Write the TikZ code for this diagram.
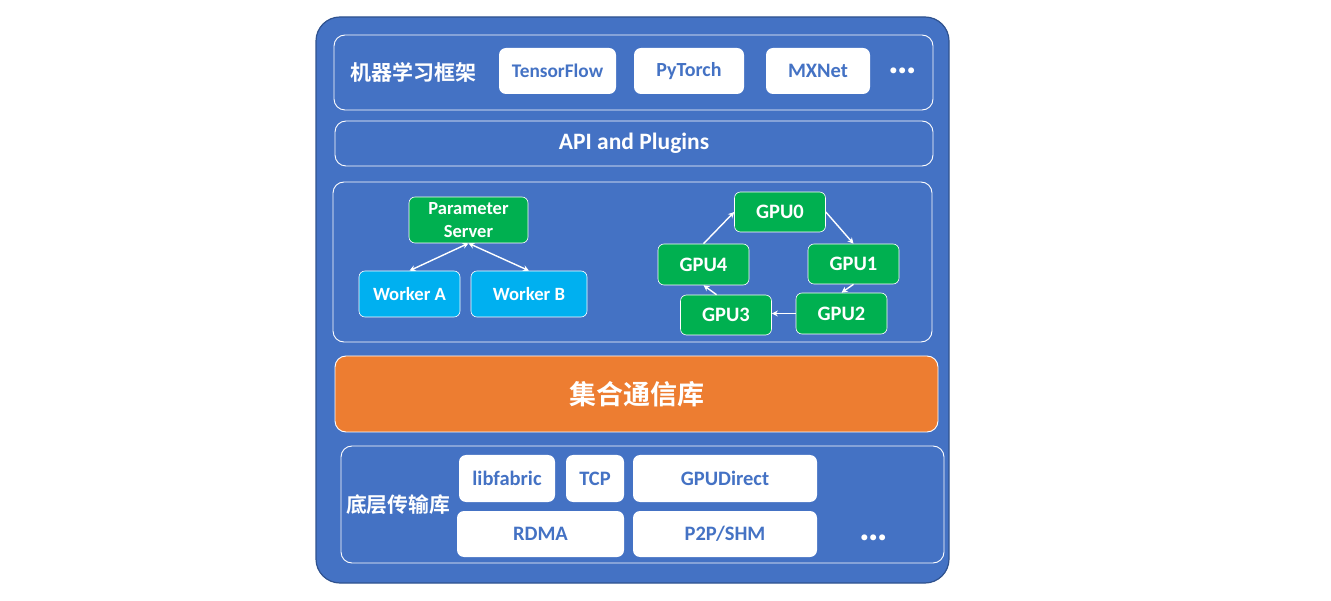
\documentclass[tikz,border=0pt]{standalone}
\usepackage{fontspec}
\setmainfont{Carlito}
\newfontfamily\cjkfont{Noto Sans CJK SC}[BoldFont={* Bold}]
\usetikzlibrary{arrows.meta}
\definecolor{boxblue}{HTML}{4472C4}
\definecolor{edgeblue}{HTML}{2F528F}
\definecolor{nodegreen}{HTML}{00B050}
\definecolor{workerblue}{HTML}{00B0F0}
\definecolor{nccl}{HTML}{ED7D31}
\begin{document}
\begin{tikzpicture}[x=1pt, y=-1pt,
    frame/.style={draw=white, line width=0.9pt, rounded corners=11pt, inner sep=0pt},
    libbox/.style={fill=white, rounded corners=7pt, inner sep=0pt, text=boxblue,
      font=\bfseries\fontsize{20.5}{22}\selectfont},
    gpubox/.style={fill=nodegreen, draw=white, line width=0.6pt, rounded corners=6pt,
      inner sep=0pt, text=white, font=\bfseries\fontsize{20.5}{22}\selectfont,
      minimum width=91pt, minimum height=40pt},
    wkbox/.style={fill=workerblue, draw=white, line width=0.6pt, rounded corners=6pt,
      inner sep=0pt, text=white, font=\bfseries\fontsize{18.7}{22}\selectfont,
      minimum height=46pt},
    link/.style={white, line width=1.4pt, -{Stealth[length=6pt, width=6pt]}},
    dots/.style={text=white, anchor=base, inner sep=0pt, font=\bfseries\fontsize{40}{40}\selectfont}]
  \useasboundingbox (0,0) rectangle (1331,601);

  % outer box
  \node[fill=boxblue, draw=edgeblue, line width=1.2pt, rounded corners=24pt,
    minimum width=633pt, minimum height=566pt] (outer) at (632.5,300) {};

  % frameworks
  \node[frame, minimum width=599pt, minimum height=75pt] (fw) at (633.5,72.5) {};
  \node[text=white, font=\cjkfont\bfseries\fontsize{21}{24}\selectfont] (fwlabel) at (413,72) {机器学习框架};
  \node[libbox, minimum width=117pt, minimum height=46pt, font=\bfseries\fontsize{19.3}{22}\selectfont] (tf) at (557.5,71) {TensorFlow};
  \node[libbox, minimum width=110pt, minimum height=46pt, font=\bfseries\fontsize{20}{22}\selectfont] (pt) at (689,71) {PyTorch};
  \node[libbox, minimum width=104pt, minimum height=46pt, font=\bfseries\fontsize{20.5}{22}\selectfont] (mx) at (818,71) {MXNet};
  \node[dots] (fwdots) at (903,74) {…};

  % api layer
  \node[frame, minimum width=598pt, minimum height=45pt, text=white,
    font=\bfseries\fontsize{23.5}{26}\selectfont] (api) at (634,143.5) {API and Plugins};

  % communication patterns
  \node[frame, minimum width=599pt, minimum height=160pt] (mid) at (632.5,262) {};
  \node[gpubox, minimum width=119pt, minimum height=46pt, align=center,
    font=\bfseries\fontsize{18.5}{22.5}\selectfont] (ps) at (468.5,220) {Parameter\\Server};
  \node[wkbox, minimum width=101pt] (wa) at (409.5,294) {Worker A};
  \node[wkbox, minimum width=116pt] (wb) at (529,294) {Worker B};
  \draw[link, {Stealth[length=6pt, width=6pt]}-{Stealth[length=6pt, width=6pt]}] (ps.south) -- (wa.north);
  \draw[link, {Stealth[length=6pt, width=6pt]}-{Stealth[length=6pt, width=6pt]}] (ps.south) -- (wb.north);

  \node[gpubox] (gpu0) at (780,212) {GPU0};
  \node[gpubox] (gpu1) at (853.5,264) {GPU1};
  \node[gpubox, minimum height=41pt] (gpu2) at (841.5,313.5) {GPU2};
  \node[gpubox] (gpu3) at (726,315) {GPU3};
  \node[gpubox, minimum height=41pt] (gpu4) at (703.5,264.5) {GPU4};
  \draw[link] (gpu0.east) -- (gpu1.north);
  \draw[link] (gpu1.south) -- (gpu2.north);
  \draw[link] (gpu2.west) -- (gpu2.west -| gpu3.east);
  \draw[link] (gpu3.115) -- (gpu4.south);
  \draw[link] (gpu4.north) -- (gpu0.west);

  % collective library
  \node[fill=nccl, draw=white, line width=0.9pt, rounded corners=11pt,
    minimum width=603pt, minimum height=76pt, text=white,
    font=\cjkfont\bfseries\fontsize{27}{30}\selectfont] (coll) at (636.5,394) {集合通信库};

  % transport layer
  \node[frame, minimum width=603pt, minimum height=117pt] (trans) at (642.5,504.5) {};
  \node[text=white, font=\cjkfont\bfseries\fontsize{20.8}{24}\selectfont] (translabel) at (398,505) {底层传输库};
  \node[libbox, minimum width=96pt, minimum height=47pt] (lf) at (507,478.5) {libfabric};
  \node[libbox, minimum width=58pt, minimum height=47pt] (tcp) at (595,478.5) {TCP};
  \node[libbox, minimum width=184pt, minimum height=47pt] (gd) at (725,478.5) {GPUDirect};
  \node[libbox, minimum width=167pt, minimum height=46pt] (rdma) at (540.5,534) {RDMA};
  \node[libbox, minimum width=184pt, minimum height=46pt] (p2p) at (725,534) {P2P/SHM};
  \node[dots] (trdots) at (874,540) {…};
\end{tikzpicture}
\end{document}
